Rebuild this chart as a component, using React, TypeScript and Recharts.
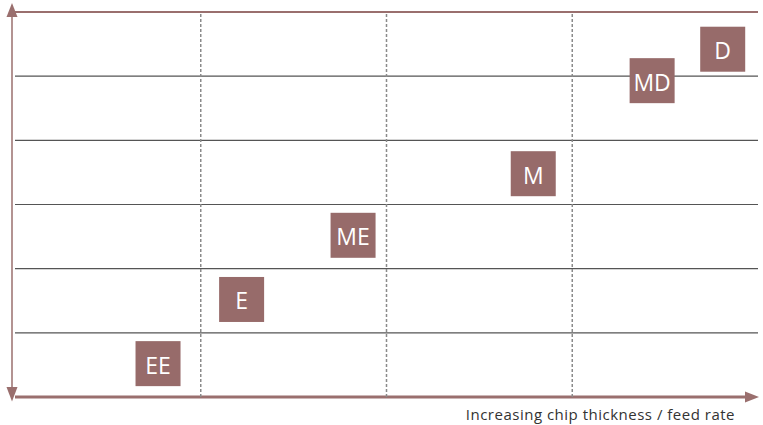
import React from 'react';
import { ScatterChart, Scatter, XAxis, YAxis, ReferenceLine, usePlotArea } from 'recharts';

// machining grades, positioned by chip thickness (x) and toughness level (y)
const labels = ['EE', 'E', 'ME', 'M', 'MD', 'D'];
const chipThickness = [0.77, 1.22, 1.82, 2.79, 3.43, 3.81];
const level = [0.52, 1.52, 2.52, 3.48, 4.93, 5.42];

const xGridLines = [1, 2, 3];
const yGridLines = [1, 2, 3, 4, 5];
const axisTitle = 'Increasing chip thickness / feed rate';

const AXIS_COLOR = '#9a6f6e';
const TILE_COLOR = '#976b6a';
const FONT = '"Open Sans", "Noto Sans", sans-serif';

const data = labels.map((name, i) => ({ name, x: chipThickness[i], y: level[i] }));

const Tile = (props: any) => {
  const { cx, cy, payload } = props;
  if (cx == null || cy == null) return null;
  return (
    <g>
      <rect x={cx - 22.5} y={cy - 22.5} width={45} height={45} fill={TILE_COLOR} />
      <text
        x={cx}
        y={cy + 1}
        textAnchor="middle"
        dominantBaseline="central"
        fill="#ffffff"
        fontSize={23}
        fontFamily={FONT}
      >
        {payload.name}
      </text>
    </g>
  );
};

// axis lines with arrow heads, drawn around the plot area
const AxisDecor = () => {
  const area = usePlotArea();
  if (!area) return null;
  const { x, y, width, height } = area;
  const ax = x - 3;
  const bottom = y + height;
  const right = x + width;
  return (
    <g>
      <line x1={ax} y1={y + 4} x2={ax} y2={bottom - 10} stroke={AXIS_COLOR} strokeWidth={1.5} />
      <polygon points={`${ax},${y - 9} ${ax - 5.5},${y + 5} ${ax + 5.5},${y + 5}`} fill={AXIS_COLOR} />
      <polygon
        points={`${ax},${bottom + 4.5} ${ax - 5.5},${bottom - 10} ${ax + 5.5},${bottom - 10}`}
        fill={AXIS_COLOR}
      />
      <line x1={x} y1={bottom} x2={right - 12} y2={bottom} stroke={AXIS_COLOR} strokeWidth={2.8} />
      <polygon
        points={`${right + 1},${bottom} ${right - 13},${bottom - 5.5} ${right - 13},${bottom + 5.5}`}
        fill={AXIS_COLOR}
      />
      <text
        x={right - 23}
        y={bottom + 23}
        textAnchor="end"
        fill="#333333"
        fontSize={15}
        letterSpacing={0.5}
        fontFamily={FONT}
      >
        {axisTitle}
      </text>
    </g>
  );
};

export default function App() {
  return (
    <div style={{ position: 'absolute', left: 0, top: 0, background: '#ffffff' }}>
      <ScatterChart width={763} height={425} margin={{ top: 12, right: 5, bottom: 28, left: 15 }}>
        <XAxis type="number" dataKey="x" domain={[0, 4]} hide />
        <YAxis type="number" dataKey="y" domain={[0, 6]} hide />
        {yGridLines.map((v) => (
          <ReferenceLine key={`h${v}`} y={v} stroke="#555555" strokeWidth={1.2} />
        ))}
        {xGridLines.map((v) => (
          <ReferenceLine key={`v${v}`} x={v} stroke="#8a8a8a" strokeWidth={1.5} strokeDasharray="3 2" />
        ))}
        <ReferenceLine y={6} stroke={AXIS_COLOR} strokeWidth={2} />
        <AxisDecor />
        <Scatter data={data} shape={<Tile />} isAnimationActive={false} />
      </ScatterChart>
    </div>
  );
}
